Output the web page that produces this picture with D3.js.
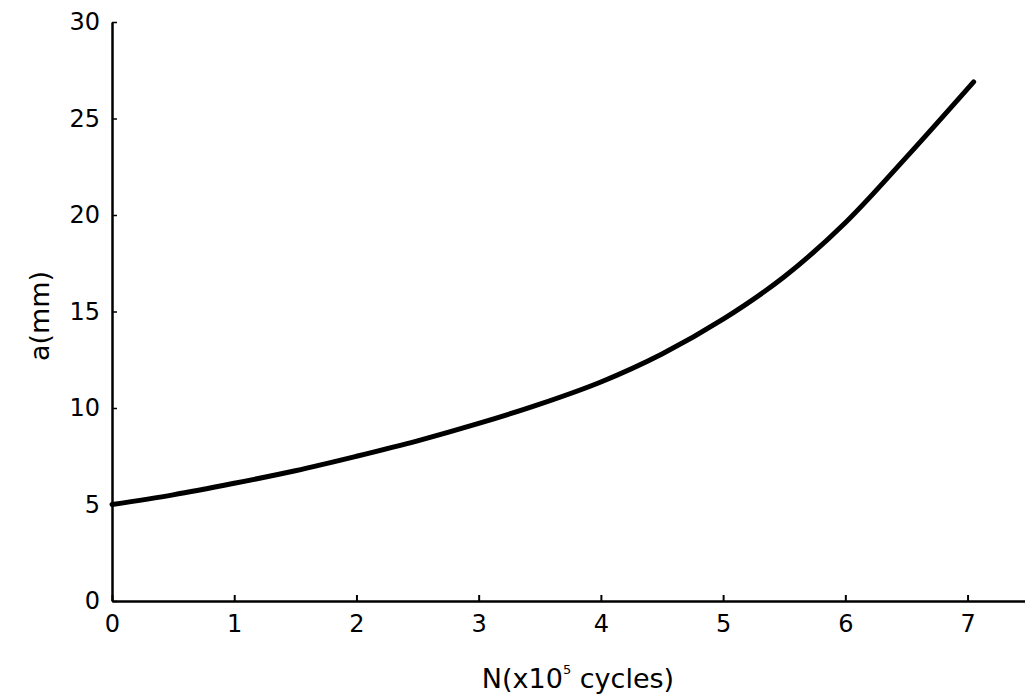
<!DOCTYPE html>
<html>
<head>
<meta charset="utf-8">
<script src="https://cdn.jsdelivr.net/npm/d3@7"></script>
<style>
	body { margin: 0; background: #fff; }
	text { font-family: "DejaVu Sans", sans-serif; fill: #000; }
</style>
</head>
<body>
<div id="chart"></div>
<script>
//	data
var cycles = [0, 0.5, 1, 1.5, 2, 2.5, 3, 3.5, 4, 4.5, 5, 5.5, 6, 6.5, 7.05];
var crackLength = [5.0, 5.5, 6.1, 6.75, 7.5, 8.3, 9.2, 10.2, 11.35, 12.8, 14.6, 16.8, 19.6, 23.0, 26.9];
var xTicks = [0, 1, 2, 3, 4, 5, 6, 7];
var yTicks = [0, 5, 10, 15, 20, 25, 30];

var width = 1025, height = 696;
var svg = d3.select("#chart")
	.append("svg")
	.attr("width", width)
	.attr("height", height);

// x0 = 112px, one unit = 122.2px ; y0 = 601px, 30 at 22px
var x = d3.scaleLinear().domain([0, 7.47]).range([112, 1025]);
var y = d3.scaleLinear().domain([0, 30]).range([601, 22]);

// inward ticks, like the original
var xAxis = d3.axisBottom(x).tickValues(xTicks).tickSize(-6).tickPadding(14).tickSizeOuter(0);
var yAxis = d3.axisLeft(y).tickValues(yTicks).tickSize(-5).tickPadding(12).tickSizeOuter(0);

var gx = svg.append("g")
	.attr("transform", "translate(0," + y(0) + ")")
	.call(xAxis);
gx.select(".domain").attr("stroke", "#000").attr("stroke-width", 2.5);
gx.selectAll(".tick line").attr("stroke", "#000").attr("stroke-width", 2);
gx.selectAll(".tick text").attr("font-size", 24).attr("dy", "0.71em")
	.style("font-family", "DejaVu Sans, sans-serif");

var gy = svg.append("g")
	.attr("transform", "translate(" + x(0) + ",0)")
	.call(yAxis);
gy.select(".domain").attr("stroke", "#000").attr("stroke-width", 2.5);
gy.selectAll(".tick line").attr("stroke", "#000").attr("stroke-width", 1.5);
gy.selectAll(".tick text").attr("font-size", 24)
	.style("font-family", "DejaVu Sans, sans-serif");

// the curve
var line = d3.line()
	.x(function(d) { return x(d[0]); })
	.y(function(d) { return y(d[1]); })
	.curve(d3.curveCatmullRom);

svg.append("path")
	.datum(d3.zip(cycles, crackLength))
	.attr("d", line)
	.attr("fill", "none")
	.attr("stroke", "#000")
	.attr("stroke-width", 5)
	.attr("stroke-linecap", "round");

// axis titles
var xt = svg.append("text")
	.attr("x", 578)
	.attr("y", 688)
	.attr("text-anchor", "middle")
	.attr("font-size", 27);
xt.append("tspan").text("N(x10");
xt.append("tspan").attr("font-size", 13).attr("dy", -14).text("5");
xt.append("tspan").attr("dy", 14).text(" cycles)");

svg.append("text")
	.attr("transform", "translate(49,316) rotate(-90)")
	.attr("text-anchor", "middle")
	.attr("font-size", 27)
	.text("a(mm)");
</script>
</body>
</html>
